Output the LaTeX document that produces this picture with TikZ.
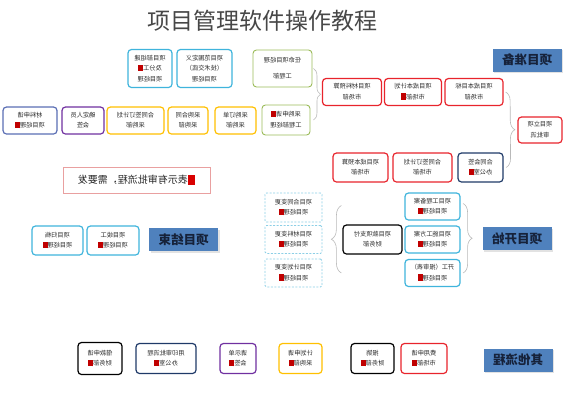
\documentclass[tikz,border=0pt]{standalone}
\usepackage{graphicx}
\usepackage{fontspec}
\setmainfont{Noto Sans CJK SC}
\usetikzlibrary{decorations.pathreplacing,shadows,calc}

\definecolor{boxred}{HTML}{E8242C}
\definecolor{boxnavy}{HTML}{1F3A68}
\definecolor{boxgreen}{HTML}{9BBB59}
\definecolor{boxcyan}{HTML}{3FB4DC}
\definecolor{boxdash}{HTML}{8CCFE6}
\definecolor{boxyellow}{HTML}{FFC000}
\definecolor{boxpurple}{HTML}{7030A0}
\definecolor{boxslate}{HTML}{5A6EB4}
\definecolor{labelblue}{HTML}{4F81BD}
\definecolor{labeltext}{HTML}{16223A}
\definecolor{legendred}{HTML}{E9A0A0}
\definecolor{sqred}{HTML}{C00000}
\definecolor{txtgray}{HTML}{2A2A2A}

% rotes Kaestchen = Genehmigungsablauf
\newcommand{\sq}{\textcolor{sqred}{\rule[-0.6pt]{5pt}{6.6pt}}}
% gespiegelter Text wie im Original
\newcommand{\mt}[1]{\reflectbox{\begin{tabular}{@{}c@{}}#1\end{tabular}}}

\tikzset{
  procbox/.style={draw, rounded corners=3.5pt, fill=white, line width=1.2pt,
    text=txtgray, font=\fontsize{6.2}{10.5}\selectfont, inner sep=1pt,
    minimum height=27pt},
  redbox/.style={procbox, draw=boxred},
  navybox/.style={procbox, draw=boxnavy},
  greenbox/.style={procbox, draw=boxgreen, line width=0.9pt},
  cyanbox/.style={procbox, draw=boxcyan},
  dashbox/.style={procbox, draw=boxdash, line width=0.8pt, rounded corners=1.5pt,
    dash pattern=on 2pt off 1.5pt},
  yellowbox/.style={procbox, draw=boxyellow},
  purplebox/.style={procbox, draw=boxpurple},
  slatebox/.style={procbox, draw=boxslate},
  blackbox/.style={procbox, draw=black},
  stagelabel/.style={fill=labelblue, text=labeltext,
    font=\fontsize{12.5}{13}\selectfont\bfseries, minimum width=69pt,
    minimum height=23pt, inner sep=0pt,
    drop shadow={shadow xshift=1.5pt, shadow yshift=-1.5pt, fill=gray!45}},
  bracket/.style={draw=gray!55, line width=0.6pt, decorate,
    decoration={brace, amplitude=#1}},
  bracket/.default=8pt
}

\begin{document}
\begin{tikzpicture}[x=1pt, y=-1pt]
  \useasboundingbox (0,0) rectangle (565,400);

  % Titel
  \node[font=\fontsize{23}{23}\selectfont, text=black!72] (title) at (262,21)
    {项目管理软件操作教程};

  % Phasen
  \node[stagelabel] (prep) at (527,60) {\reflectbox{项目准备}};
  \node[stagelabel] (start) at (517,238.5) {\reflectbox{项目开始}};
  \node[stagelabel] (close) at (183.5,239.5) {\reflectbox{项目结束}};
  \node[stagelabel] (other) at (518,360) {\reflectbox{其他流程}};

  % Projektvorbereitung
  \node[redbox, minimum width=44pt, minimum height=26pt] (lx) at (540,130)
    {\mt{项目立项\\审批流}};
  \node[redbox, minimum width=58pt] (r3) at (474,92) {\mt{项目成本目标\\市场部}};
  \node[redbox, minimum width=57pt] (r2) at (413,92) {\mt{项目成本计划\\市场部\sq}};
  \node[redbox, minimum width=59pt] (r1) at (352,92) {\mt{项目材料预算\\市场部}};
  \node[redbox, minimum width=55pt, minimum height=29pt] (rb1) at (360.5,167.5)
    {\mt{项目成本预算\\市场部}};
  \node[redbox, minimum width=59pt, minimum height=29pt] (rb2) at (422.5,167.5)
    {\mt{合同签订计划\\市场部}};
  \node[navybox, minimum width=45pt, minimum height=29pt] (nv) at (480.5,167.5)
    {\mt{合同会签\\办公室\sq}};

  \node[greenbox, minimum width=59pt, minimum height=37pt] (ga) at (282.5,68.5)
    {\mt{任命项目经理\\[5pt]工程部}};
  \node[greenbox, minimum width=48pt, minimum height=30pt] (gb) at (286,120)
    {\mt{采购申请\sq\\工程部经理}};

  \node[cyanbox, minimum width=44pt, minimum height=38pt] (c1) at (150,68.5)
    {\mt{项目部组建\\及分工\sq\\项目经理}};
  \node[cyanbox, minimum width=55pt, minimum height=38pt] (c2) at (204.5,68.5)
    {\mt{项目范围定义\\（技术交底）\\项目经理}};

  \node[slatebox, minimum width=54pt] (d1) at (30,120.5) {\mt{材料申请\\项目经理\sq}};
  \node[purplebox, minimum width=42pt] (d2) at (83,120.5) {\mt{确定人员\\会签}};
  \node[yellowbox, minimum width=57pt] (d3) at (135.5,120.5) {\mt{合同签订计划\\采购部}};
  \node[yellowbox, minimum width=40pt] (d4) at (188,120.5) {\mt{采购合同\\采购部}};
  \node[yellowbox, minimum width=41pt] (d5) at (235.5,120.5) {\mt{采购订单\\采购部}};

  \draw[bracket=9pt] ($(r3.east)+(2,0)$) -- ($(nv.east)+(2.5,0)$);
  \draw[bracket=7pt] ($(ga.east)+(1,0)$) -- ($(ga.east |- gb.east)+(1,0)$);

  % Projektstart
  \node[dashbox, minimum width=57pt, minimum height=29pt] (e1) at (293.5,207.5)
    {\mt{项目合同变更\\项目经理\sq}};
  \node[dashbox, minimum width=57pt, minimum height=28pt] (e2) at (293.5,239.5)
    {\mt{项目材料变更\\项目经理\sq}};
  \node[dashbox, minimum width=57pt, minimum height=28pt] (e3) at (293.5,273)
    {\mt{项目计划变更\\项目经理\sq}};
  \node[blackbox, minimum width=59pt, minimum height=29pt] (f) at (372.5,239.5)
    {\mt{项目款项支付\\财务部}};
  \node[cyanbox, minimum width=55pt] (g1) at (432.5,206.5) {\mt{项目工程备案\\项目经理\sq}};
  \node[cyanbox, minimum width=55pt] (g2) at (432.5,239.5) {\mt{项目施工方案\\项目经理\sq}};
  \node[cyanbox, minimum width=55pt] (g3) at (432.5,273) {\mt{开工（报审表）\\项目经理\sq}};

  \draw[bracket=10pt] ($(f.west |- e3.center)+(-1,0)$) -- ($(f.west |- e1.center)+(-1,-2)$);
  \draw[bracket=9pt] ($(g1.east)+(2.5,-3)$) -- ($(g3.east)+(2.5,0)$);

  % Projektabschluss
  \node[draw=legendred, line width=0.7pt, minimum width=147pt, minimum height=26pt,
    font=\fontsize{10}{10}\selectfont, text=black!85] (legend) at (136.5,180)
    {\reflectbox{\textcolor{red!85!black}{\rule[-1pt]{7.5pt}{10pt}}表示有审批流程，需要发}};
  \node[cyanbox, minimum width=51pt, minimum height=29pt] (h1) at (57.5,240.5)
    {\mt{项目归档\\项目经理\sq}};
  \node[cyanbox, minimum width=52pt, minimum height=29pt] (h2) at (113,240.5)
    {\mt{项目竣工\\项目经理\sq}};

  % Sonstige Ablaeufe
  \node[blackbox, minimum width=44pt, minimum height=32pt] (k1) at (100,358.5)
    {\mt{借款申请\\财务部\sq}};
  \node[navybox, minimum width=60pt, minimum height=30pt] (k2) at (166,358.5)
    {\mt{用印审批流程\\办公室\sq}};
  \node[purplebox, minimum width=36pt, minimum height=30pt] (k3) at (238,358.5)
    {\mt{请示单\\会签\sq}};
  \node[yellowbox, minimum width=43pt, minimum height=30pt] (k4) at (300.5,358.5)
    {\mt{计划申请\\采购部\sq}};
  \node[blackbox, minimum width=43pt, minimum height=30pt] (k5) at (372.5,358.5)
    {\mt{报销\\财务部\sq}};
  \node[redbox, minimum width=46pt, minimum height=30pt] (k6) at (424,358.5)
    {\mt{费用申请\\市场部\sq}};
\end{tikzpicture}
\end{document}
